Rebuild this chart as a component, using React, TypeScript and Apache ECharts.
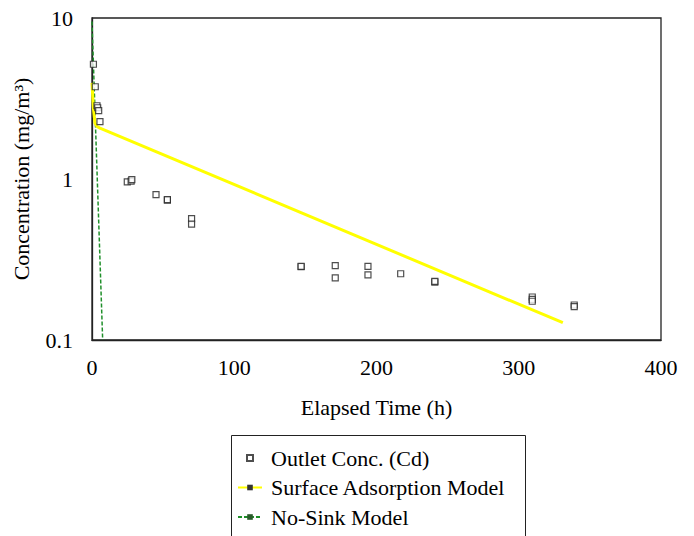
import React, { useEffect, useRef } from "react";
import * as echarts from "echarts";

// Measured outlet concentration (Cd)
const outletTime = [1, 2.3, 3.5, 4.0, 4.7, 5.6, 24.8, 27.5, 28, 45, 53, 53, 70, 70, 147, 147, 171, 171, 194, 194, 217, 241, 241, 309.5, 309.5, 309.5, 339, 339];
const outletConc = [5.16, 3.74, 2.85, 2.77, 2.66, 2.27, 0.96, 0.97, 0.99, 0.8, 0.74, 0.745, 0.567, 0.525, 0.285, 0.287, 0.29, 0.243, 0.287, 0.254, 0.258, 0.229, 0.231, 0.185, 0.179, 0.174, 0.165, 0.161];

// Surface adsorption model curve
const adsorptionTime = [0, 0.9, 2.1, 3.5, 5.6, 331];
const adsorptionConc = [3.95, 2.8, 2.22, 2.12, 2.07, 0.128];

// No-sink model curve
const noSinkTime = [0, 7.5];
const noSinkConc = [9.5, 0.1];

// Axis ticks
const xTicks = [0, 100, 200, 300, 400];
const yTicks = [0.1, 1, 10];

const zip = (xs: number[], ys: number[]) => xs.map((x, i) => [x, ys[i]]);

export default function App() {
  const ref = useRef<HTMLDivElement>(null);
  useEffect(() => {
    const chart = echarts.init(ref.current!, null, { renderer: "svg" });
    const font = "Liberation Serif";
    chart.setOption({
      animation: false,
      backgroundColor: "#fff",
      textStyle: { fontFamily: font },
      grid: {
        left: 92,
        right: 33,
        top: 18,
        bottom: 196,
        show: true,
        borderColor: "#222",
        borderWidth: 1.3,
        backgroundColor: "transparent",
      },
      graphic: [
        {
          type: "rect",
          left: 229,
          top: 433,
          shape: { width: 294, height: 130 },
          style: { fill: "none", stroke: "#222", lineWidth: 1 },
          silent: true,
        },
      ],
      legend: {
        orient: "vertical",
        left: 229,
        top: 433,
        padding: [14, 0, 0, 8],
        itemGap: 7.5,
        itemWidth: 24,
        itemHeight: 7,
        textStyle: {
          fontFamily: font,
          fontSize: 22,
          lineHeight: 22,
          color: "#000",
          padding: [0, 0, 0, 4],
        },
        data: [
          { name: "Outlet Conc. (Cd)", icon: "path://M0,0M24,7M9,0.5L15,0.5L15,6.5L9,6.5Z" },
          "Surface Adsorption Model",
          "No-Sink Model",
        ],
      },
      xAxis: {
        type: "value",
        min: xTicks[0],
        max: xTicks[xTicks.length - 1],
        interval: xTicks[1] - xTicks[0],
        axisLine: { show: true, lineStyle: { color: "#222", width: 1.3 } },
        axisTick: { show: false },
        splitLine: { show: false },
        axisLabel: { fontFamily: font, fontSize: 22, color: "#000", margin: 16 },
        name: "Elapsed Time (h)",
        nameLocation: "middle",
        nameGap: 56,
        nameTextStyle: { fontFamily: font, fontSize: 22, color: "#000" },
      },
      yAxis: {
        type: "log",
        logBase: 10,
        min: yTicks[0],
        max: yTicks[yTicks.length - 1],
        axisLine: { show: true, lineStyle: { color: "#222", width: 1.3 } },
        axisTick: { show: false },
        splitLine: { show: false },
        minorTick: { show: false },
        axisLabel: {
          fontFamily: font,
          fontSize: 22,
          color: "#000",
          margin: 19,
          formatter: (v: number) => String(Number(v.toPrecision(3))),
        },
        name: "Concentration (mg/m³)",
        nameLocation: "middle",
        nameRotate: 90,
        nameGap: 60,
        nameTextStyle: { fontFamily: font, fontSize: 22, color: "#000" },
      },
      series: [
        {
          name: "Outlet Conc. (Cd)",
          type: "scatter",
          data: zip(outletTime, outletConc),
          symbol: "rect",
          symbolSize: 6,
          itemStyle: { color: "#fff", borderColor: "#222", borderWidth: 1.2 },
          z: 4,
        },
        {
          name: "Surface Adsorption Model",
          type: "line",
          data: zip(adsorptionTime, adsorptionConc),
          symbol: "rect",
          symbolSize: [8, 2],
          showSymbol: false,
          lineStyle: { color: "#ffff00", width: 3 },
          itemStyle: { color: "#333" },
          z: 3,
        },
        {
          name: "No-Sink Model",
          type: "line",
          data: zip(noSinkTime, noSinkConc),
          symbol: "rect",
          symbolSize: [8, 2],
          showSymbol: false,
          lineStyle: { color: "#1f8f2a", width: 1.5, type: [4, 2] },
          itemStyle: { color: "#2a5a2a" },
          z: 2,
        },
      ],
    });
    return () => chart.dispose();
  }, []);
  return (
    <div
      ref={ref}
      style={{ position: "fixed", left: 0, top: 0, width: 694, height: 536, background: "#fff" }}
    />
  );
}
